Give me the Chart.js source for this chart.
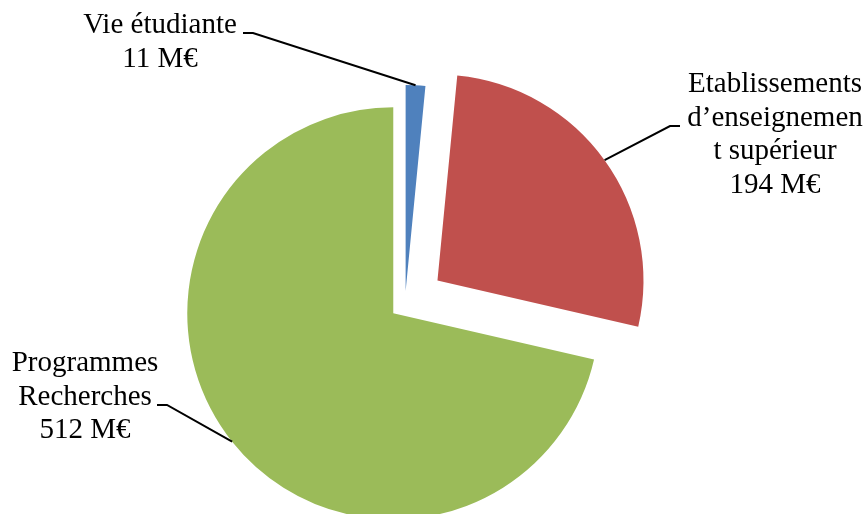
<!DOCTYPE html>
<html>
<head>
<meta charset="utf-8">
<script src="https://cdn.jsdelivr.net/npm/chart.js@4/dist/chart.umd.min.js"></script>
<style>
  body { margin: 0; background: #fff; }
  .wrap { width: 867px; height: 514px; position: relative; }
</style>
</head>
<body>
<div class="wrap"><canvas id="myChart"></canvas></div>
<script>
// data
const categories = [
    ['Vie étudiante'],
    ['Etablissements', 'd’enseignemen', 't supérieur'],
    ['Programmes', 'Recherches']
];
const budgets = [11, 194, 512];
const unit = 'M€';

// look
const sliceColors = ['#4F81BD', '#C0504D', '#9BBB59'];
const explode = [13, 40, 15];          // px each slice is pulled out
const labelX = [160, 775, 85];         // centre of label text
const labelY = [33, 92, 371];          // baseline of first line
const lineGap = 33.5;
const tickStart = [243, 680, 157];     // short horizontal stub of leader line
const tickEnd = [253, 670, 167];
const tickY = [33, 126, 405];

// pull slices out along their middle angle
const explodePlugin = {
    id: 'explode',
    afterDatasetUpdate(chart, args) {
        args.meta.data.forEach((arc, i) => {
            const mid = (arc.startAngle + arc.endAngle) / 2;
            arc.x += Math.cos(mid) * explode[i];
            arc.y += Math.sin(mid) * explode[i];
        });
    }
};

// labels + leader lines
const labelPlugin = {
    id: 'pieLabels',
    afterDraw(chart) {
        const ctx = chart.ctx;
        const arcs = chart.getDatasetMeta(0).data;
        ctx.save();
        ctx.strokeStyle = '#000';
        ctx.lineWidth = 2;
        arcs.forEach((arc, i) => {
            const mid = (arc.startAngle + arc.endAngle) / 2;
            const ex = arc.x + Math.cos(mid) * arc.outerRadius;
            const ey = arc.y + Math.sin(mid) * arc.outerRadius;
            ctx.beginPath();
            ctx.moveTo(tickStart[i], tickY[i]);
            ctx.lineTo(tickEnd[i], tickY[i]);
            ctx.lineTo(ex, ey);
            ctx.stroke();
        });

        ctx.fillStyle = '#000';
        ctx.font = '29px "Liberation Serif", serif';
        ctx.textAlign = 'center';
        ctx.textBaseline = 'alphabetic';
        categories.forEach((lines, i) => {
            const all = lines.concat([budgets[i] + ' ' + unit]);
            all.forEach((t, k) => {
                ctx.fillText(t, labelX[i], labelY[i] + k * lineGap);
            });
        });
        ctx.restore();
    }
};

const ctx = document.getElementById('myChart').getContext('2d');
const chart = new Chart(ctx, {
    type: 'pie',
    data: {
        labels: categories.map(c => c.join(' ')),
        datasets: [{
            data: budgets,
            backgroundColor: sliceColors,
            borderWidth: 0,
            clip: false
        }]
    },
    options: {
        responsive: true,
        maintainAspectRatio: false,
        animation: false,
        radius: 206,
        layout: { padding: { left: 0, right: 57, top: 94, bottom: 0 } },
        plugins: {
            legend: { display: false },
            tooltip: { enabled: false }
        }
    },
    plugins: [explodePlugin, labelPlugin]
});
</script>
</body>
</html>
